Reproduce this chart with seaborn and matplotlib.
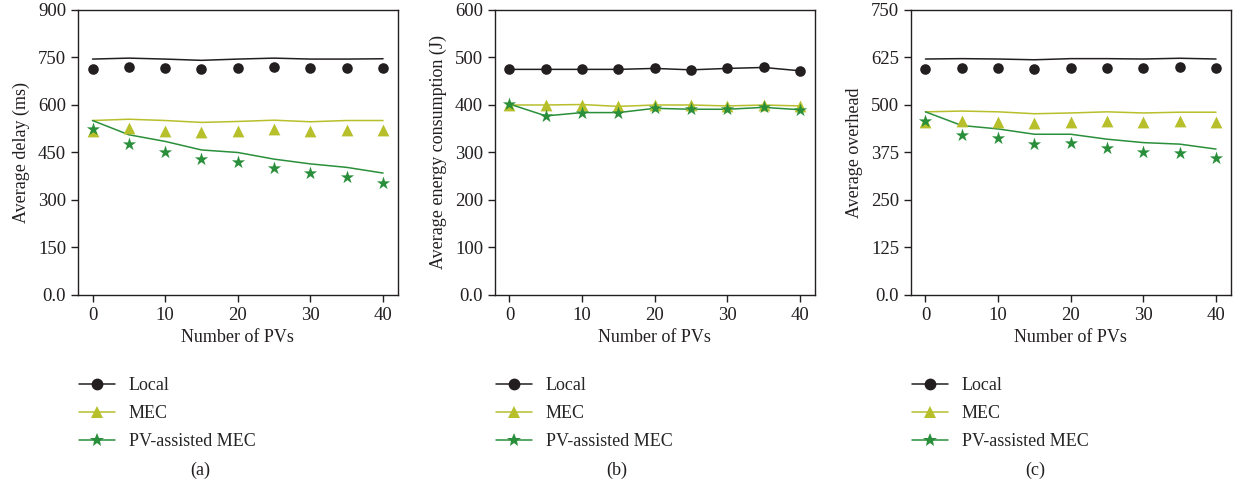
import matplotlib
matplotlib.use("Agg")
import matplotlib.pyplot as plt
import seaborn as sns
import pandas as pd
from matplotlib.lines import Line2D
from matplotlib.ticker import FuncFormatter

# eixo x comum
pvs = [0, 5, 10, 15, 20, 25, 30, 35, 40]

# (a) atraso medio
delay_local_line = [745, 748, 745, 741, 745, 748, 745, 745, 746]
delay_local_pts = [714, 719, 716, 713, 717, 719, 716, 717, 717]
delay_mec_line = [551, 555, 551, 545, 548, 552, 547, 551, 551]
delay_mec_pts = [519, 527, 519, 514, 518, 524, 517, 522, 522]
delay_pv_line = [551, 506, 485, 458, 450, 429, 414, 403, 385]
delay_pv_pts = [524, 476, 453, 429, 421, 401, 385, 372, 355]

# (b) consumo de energia
energy_local = [475, 475, 475, 475, 477, 474, 477, 479, 472]
energy_mec = [400, 400, 401, 397, 400, 400, 398, 400, 398]
energy_pv = [402, 377, 384, 384, 393, 391, 391, 395, 390]

# (c) overhead
over_local_line = [621, 622, 621, 619, 622, 622, 621, 623, 621]
over_local_pts = [596, 598, 597, 595, 598, 598, 598, 599, 597]
over_mec_line = [482, 484, 482, 477, 479, 482, 479, 481, 481]
over_mec_pts = [456, 458, 456, 452, 455, 457, 454, 457, 455]
over_pv_line = [482, 446, 437, 423, 423, 410, 401, 397, 384]
over_pv_pts = [458, 422, 414, 398, 399, 386, 376, 373, 360]

series = ['Local', 'MEC', 'PV-assisted MEC']
cores = {'Local': '#231f20', 'MEC': '#b7bf2b', 'PV-assisted MEC': '#2a8f3a'}
marcadores = {'Local': 'o', 'MEC': '^', 'PV-assisted MEC': '*'}
tamanhos = {'Local': 58, 'MEC': 72, 'PV-assisted MEC': 100}

paineis = [
    dict(lines=[delay_local_line, delay_mec_line, delay_pv_line],
         pts=[delay_local_pts, delay_mec_pts, delay_pv_pts],
         ylabel='Average delay (ms)', ymax=900, step=150, tag='(a)',
         left=0.0632, cap=0.162),
    dict(lines=[energy_local, energy_mec, energy_pv],
         pts=[energy_local, energy_mec, energy_pv],
         ylabel='Average energy consumption (J)', ymax=600, step=100, tag='(b)',
         left=0.4011, cap=0.500),
    dict(lines=[over_local_line, over_mec_line, over_pv_line],
         pts=[over_local_pts, over_mec_pts, over_pv_pts],
         ylabel='Average overhead', ymax=750, step=125, tag='(c)',
         left=0.7382, cap=0.839),
]

sns.set_style('ticks')
plt.rcParams['font.family'] = ['Liberation Serif', 'DejaVu Serif']
plt.rcParams['axes.edgecolor'] = '#231f20'
plt.rcParams['axes.linewidth'] = 1.0

fig = plt.figure(figsize=(12.34, 4.9), dpi=100)


def fmt(v, pos):
    return '0.0' if v == 0 else '%d' % v


for p in paineis:
    ax = fig.add_axes([p['left'], 0.398, 0.2590, 0.5816])
    linhas = pd.DataFrame({'x': pvs * 3,
                           'y': sum(p['lines'], []),
                           's': sum([[s] * len(pvs) for s in series], [])})
    pontos = pd.DataFrame({'x': pvs * 3,
                           'y': sum(p['pts'], []),
                           's': sum([[s] * len(pvs) for s in series], [])})
    sns.lineplot(data=linhas, x='x', y='y', hue='s', palette=cores,
                 linewidth=1.1, legend=False, ax=ax)
    for s in series:
        sub = pontos[pontos['s'] == s]
        sns.scatterplot(data=sub, x='x', y='y', color=cores[s],
                        marker=marcadores[s], s=tamanhos[s], linewidth=0,
                        legend=False, ax=ax, zorder=3)

    ax.set_xlim(-2, 42)
    ax.set_xticks([0, 10, 20, 30, 40])
    ax.set_ylim(0, p['ymax'])
    ax.set_yticks(range(0, p['ymax'] + 1, p['step']))
    ax.yaxis.set_major_formatter(FuncFormatter(fmt))
    ax.tick_params(labelsize=13.5, colors='#231f20', length=5, width=1)
    ax.set_xlabel('Number of PVs', fontsize=13, color='#231f20', labelpad=4)
    ax.set_ylabel(p['ylabel'], fontsize=13, color='#231f20', labelpad=6)

    handles = [Line2D([0], [0], color=cores[s], marker=marcadores[s],
                      markersize=10 if s == 'PV-assisted MEC' else 8.5,
                      markeredgewidth=0, linewidth=1.1) for s in series]
    fig.legend(handles, series, loc='upper left',
               bbox_to_anchor=(p['left'] - 0.005, 0.245), frameon=False,
               fontsize=13, handlelength=2.0, handletextpad=0.75,
               labelspacing=0.6, borderaxespad=0)
    fig.text(p['cap'], 0.03, p['tag'], fontsize=13, color='#231f20',
             ha='center')

fig.savefig('out.png', dpi=100)
